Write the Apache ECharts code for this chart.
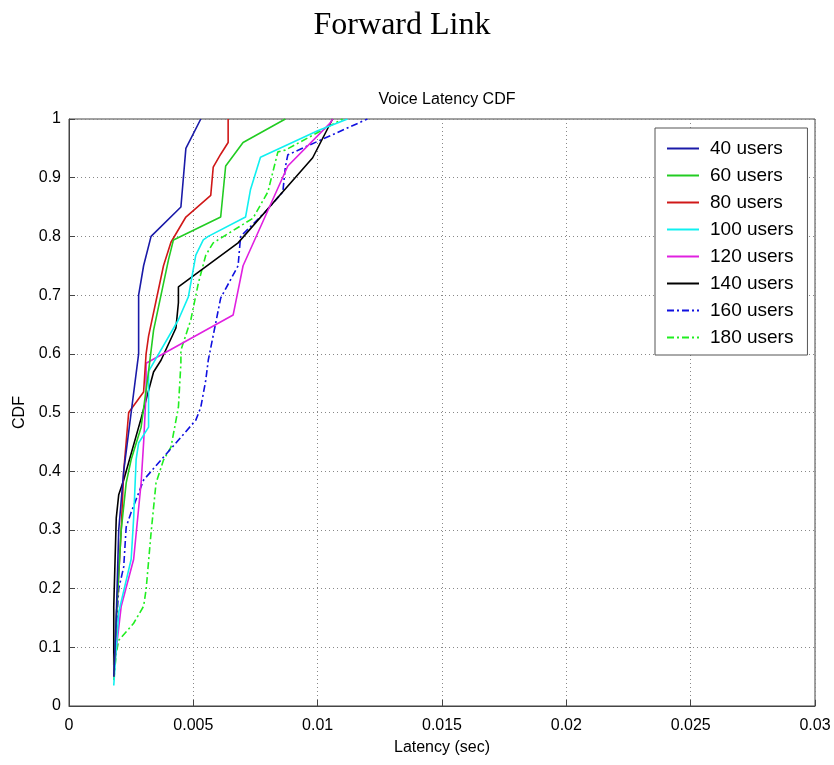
<!DOCTYPE html>
<html>
<head>
<meta charset="utf-8">
<script src="https://cdn.jsdelivr.net/npm/echarts@6/dist/echarts.min.js"></script>
<style>html,body{margin:0;padding:0;background:#fff}#c{width:834px;height:765px}</style>
</head>
<body>
<div id="c"></div>
<script>
const seriesNames = ['40 users','60 users','80 users','100 users','120 users','140 users','160 users','180 users'];
const xTicks = [0, 0.005, 0.01, 0.015, 0.02, 0.025, 0.03];
const u40 = [[0.0018,0.05],[0.0019,0.15],[0.0020,0.3],[0.0022,0.4],[0.0025,0.5],[0.0028,0.6],[0.0028,0.7],[0.0030,0.75],[0.0033,0.8],[0.0045,0.85],[0.0046,0.9],[0.0047,0.95],[0.0053,1.0]];
const u60 = [[0.0018,0.05],[0.0019,0.15],[0.0021,0.3],[0.0023,0.38],[0.0025,0.42],[0.0029,0.475],[0.0032,0.57],[0.0034,0.64],[0.0036,0.68],[0.0040,0.76],[0.0042,0.794],[0.0061,0.833],[0.0063,0.92],[0.0070,0.96],[0.0087,1.0]];
const u80 = [[0.0018,0.05],[0.0019,0.15],[0.0021,0.3],[0.0022,0.4],[0.0024,0.5],[0.0030,0.535],[0.0031,0.6],[0.0032,0.63],[0.0035,0.69],[0.0038,0.75],[0.0041,0.79],[0.0047,0.833],[0.0057,0.87],[0.0058,0.918],[0.0061,0.94],[0.0064,0.96],[0.0064,1.0]];
const u100 = [[0.0018,0.035],[0.0020,0.16],[0.0025,0.25],[0.0026,0.32],[0.0027,0.42],[0.0028,0.448],[0.0032,0.475],[0.0032,0.57],[0.0044,0.658],[0.0048,0.697],[0.0051,0.768],[0.0054,0.794],[0.0056,0.80],[0.0071,0.833],[0.0073,0.88],[0.0077,0.935],[0.0100,0.98],[0.0112,1.0]];
const u120 = [[0.0018,0.06],[0.0021,0.17],[0.0026,0.25],[0.0029,0.38],[0.0030,0.448],[0.0031,0.533],[0.0031,0.584],[0.0066,0.666],[0.0070,0.75],[0.0088,0.92],[0.0105,0.993],[0.0106,1.0]];
const u140 = [[0.0018,0.07],[0.0018,0.17],[0.0019,0.32],[0.0020,0.36],[0.0022,0.385],[0.0029,0.49],[0.0034,0.569],[0.0037,0.589],[0.0043,0.644],[0.0044,0.687],[0.0044,0.714],[0.0068,0.789],[0.0086,0.876],[0.0098,0.934],[0.0106,1.0]];
const u160 = [[0.0018,0.066],[0.0020,0.2],[0.0022,0.237],[0.0023,0.305],[0.0025,0.33],[0.0030,0.385],[0.0037,0.419],[0.0051,0.487],[0.0053,0.509],[0.0055,0.555],[0.0056,0.589],[0.0061,0.695],[0.0068,0.75],[0.0069,0.80],[0.0079,0.842],[0.0086,0.876],[0.0087,0.918],[0.0088,0.939],[0.0120,1.0]];
const u180 = [[0.0018,0.044],[0.0019,0.09],[0.0020,0.112],[0.0026,0.141],[0.0030,0.17],[0.0031,0.198],[0.0033,0.295],[0.0035,0.38],[0.0038,0.419],[0.0041,0.441],[0.0044,0.509],[0.0045,0.584],[0.0045,0.606],[0.0049,0.658],[0.0052,0.72],[0.0055,0.768],[0.0058,0.789],[0.0074,0.831],[0.0080,0.876],[0.0084,0.944],[0.0087,0.947],[0.0110,1.0]];

const allData = [u40,u60,u80,u100,u120,u140,u160,u180];
const colors = ['#1a1aa8','#22cc22','#d01818','#10f0f0','#e020e0','#000000','#1010e0','#20ee20'];
const dashes = ['solid','solid','solid','solid','solid','solid',[7,3,2,3],[7,3,2,3]];

const chart = echarts.init(document.getElementById('c'));
const font = 'Liberation Sans, Arial, sans-serif';
chart.setOption({
  animation: false,
  backgroundColor: '#fff',
  title: [
    {text: 'Forward Link', left: 397, top: 5, textAlign: 'center', textStyle: {fontFamily: 'Liberation Serif, Times New Roman, serif', fontSize: 32, fontWeight: 'normal', color: '#000'}},
    {text: 'Voice Latency CDF', left: 442, top: 87, textAlign: 'center', textStyle: {fontFamily: font, fontSize: 16, fontWeight: 'normal', color: '#000'}}
  ],
  grid: {left: 69, right: 19, top: 119, bottom: 59, show: true, borderColor: '#444', borderWidth: 1, backgroundColor: 'transparent'},
  legend: {
    orient: 'vertical', left: 655, top: 128,
    data: seriesNames,
    itemWidth: 32, itemHeight: 14, itemGap: 8,
    padding: [11, 14, 8, 11],
    borderColor: '#555', borderWidth: 1, backgroundColor: '#fff',
    itemStyle: {opacity: 0},
    textStyle: {fontFamily: font, fontSize: 19, lineHeight: 14, color: '#000', padding: [0, 0, 0, 6]}
  },
  xAxis: {
    type: 'value', min: 0, max: 0.03, interval: 0.005,
    name: 'Latency (sec)', nameLocation: 'middle', nameGap: 34,
    nameTextStyle: {fontFamily: font, fontSize: 16, color: '#000'},
    axisLine: {show: true, lineStyle: {color: '#444'}},
    axisTick: {show: true, inside: true, length: 6, lineStyle: {color: '#444'}},
    axisLabel: {fontFamily: font, fontSize: 16, color: '#000', margin: 12, formatter: v => xTicks.includes(+v.toFixed(4)) ? String(+v.toFixed(4)) : ''},
    splitLine: {show: true, lineStyle: {color: '#888', type: [1, 3]}}
  },
  yAxis: {
    type: 'value', min: 0, max: 1, interval: 0.1,
    name: 'CDF', nameLocation: 'middle', nameGap: 40,
    nameTextStyle: {fontFamily: font, fontSize: 16, color: '#000'},
    axisLine: {show: true, lineStyle: {color: '#444'}},
    axisTick: {show: true, inside: true, length: 6, lineStyle: {color: '#444'}},
    axisLabel: {fontFamily: font, fontSize: 16, color: '#000', margin: 8, formatter: v => String(+v.toFixed(1))},
    splitLine: {show: true, lineStyle: {color: '#888', type: [1, 3]}}
  },
  series: seriesNames.map((n, i) => ({
    name: n, type: 'line', data: allData[i], symbol: 'none', showSymbol: false,
    lineStyle: {color: colors[i], width: 1.6, type: dashes[i]},
    itemStyle: {color: colors[i]},
    z: 10 - i
  }))
});
</script>
</body>
</html>
